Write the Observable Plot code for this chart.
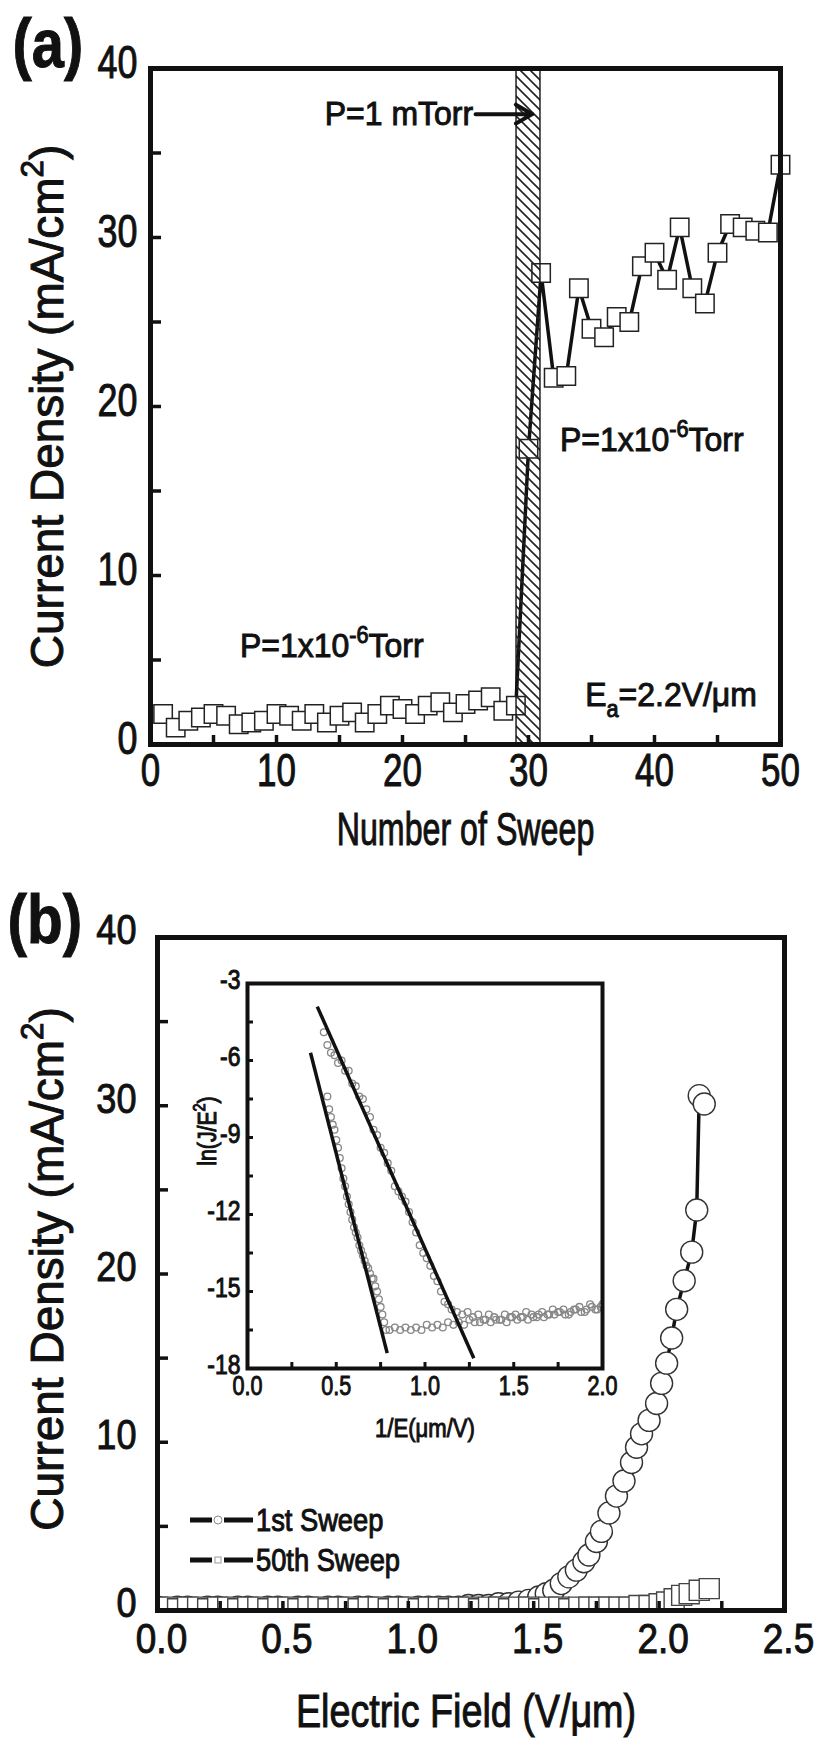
<!DOCTYPE html>
<html>
<head>
<meta charset="utf-8">
<script src="https://cdn.jsdelivr.net/npm/d3@7"></script>
<script src="https://cdn.jsdelivr.net/npm/@observablehq/plot@0.6"></script>
<style>
  html, body { margin: 0; padding: 0; background: #fff; }
  #fig { position: relative; width: 819px; height: 1744px; overflow: hidden; background: #fff; }
  #fig > svg, #fig > div { position: absolute; }
  #fig svg text { stroke: #111; stroke-width: 1px; }
</style>
</head>
<body>
<div id="fig"></div>
<script>
// ---------------- DATA ----------------
// Panel (a): current density vs sweep number
const sweepNumber = [1,2,3,4,5,6,7,8,9,10,11,12,13,14,15,16,17,18,19,20,21,22,23,24,25,26,27,28,29,30,31,32,33,34,35,36,37,38,39,40,41,42,43,44,45,46,47,48,49,50];
const sweepCurrent = [1.8,1.0,1.4,1.6,1.8,1.7,1.2,1.3,1.4,1.8,1.7,1.4,1.8,1.3,1.7,1.9,1.3,1.8,2.3,2.1,1.8,2.3,2.5,1.9,2.4,2.6,2.8,2.0,2.3,17.5,27.9,21.7,21.8,27.0,24.6,24.1,25.3,25.0,28.3,29.1,27.5,30.6,27.0,26.1,29.1,30.8,30.6,30.4,30.3,34.3];
const exposureBand = [{from: 29.05, to: 30.95}];
const xTicksA = [0, 10, 20, 30, 40, 50];
const yTicksA = [0, 10, 20, 30, 40];
const xMinorA = [5, 10, 15, 20, 25, 30, 35, 40, 45];
const yMinorA = [5, 10, 15, 20, 25, 30, 35];
const notesStartA = [
  {x: 7.1, y: 5.8, t: "P=1x10^{-6}Torr"},
  {x: 32.5, y: 18.0, t: "P=1x10^{-6}Torr"},
  {x: 34.5, y: 2.9, t: "E_{a}=2.2V/μm"}
];
const notesEndA = [{x: 25.6, y: 37.3, t: "P=1 mTorr"}];
const arrowA = [{x1: 25.8, x2: 30.3, y: 37.3}];

// Panel (b): J-E curves
const firstE = [0.00,0.04,0.08,0.12,0.16,0.20,0.24,0.28,0.32,0.36,0.40,0.44,0.48,0.52,0.56,0.60,0.64,0.68,0.72,0.76,0.80,0.84,0.88,0.92,0.96,1.00,1.04,1.08,1.12,1.16,1.20,1.24,1.28,1.32,1.36,1.40,1.44,1.48,1.52,1.55,1.58,1.61,1.64,1.67,1.70,1.72,1.75,1.77,1.80,1.83,1.86,1.89,1.91,1.93,1.96,1.99,2.01,2.03,2.05,2.07,2.10,2.13,2.15,2.16,2.18];
const firstJ = [0.2,0.1,0.2,0.2,0.1,0.2,0.2,0.1,0.2,0.2,0.1,0.2,0.2,0.1,0.2,0.2,0.1,0.2,0.2,0.1,0.2,0.2,0.1,0.2,0.2,0.1,0.2,0.2,0.2,0.2,0.2,0.3,0.3,0.3,0.4,0.4,0.5,0.6,0.8,1.0,1.2,1.6,2.0,2.4,2.9,3.3,4.1,4.7,5.8,6.8,7.7,8.8,9.7,10.5,11.3,12.3,13.5,14.7,16.2,17.9,19.6,21.3,23.8,30.6,30.1];
const lastE = [0.00,0.04,0.08,0.12,0.16,0.20,0.24,0.28,0.32,0.36,0.40,0.44,0.48,0.52,0.56,0.60,0.64,0.68,0.72,0.76,0.80,0.84,0.88,0.92,0.96,1.00,1.04,1.08,1.12,1.16,1.20,1.24,1.28,1.32,1.36,1.40,1.44,1.48,1.52,1.56,1.60,1.64,1.68,1.72,1.76,1.80,1.84,1.88,1.92,1.96,2.00,2.03,2.06,2.09,2.12,2.16,2.20];
const lastJ = [0.2,0.2,0.1,0.2,0.2,0.1,0.2,0.2,0.1,0.2,0.2,0.1,0.2,0.2,0.1,0.2,0.2,0.1,0.2,0.2,0.1,0.2,0.2,0.1,0.2,0.2,0.1,0.2,0.2,0.1,0.2,0.2,0.1,0.2,0.2,0.1,0.2,0.2,0.1,0.2,0.2,0.1,0.2,0.2,0.2,0.2,0.2,0.2,0.3,0.3,0.4,0.5,0.7,0.9,1.0,1.2,1.3];
const xTicksB = [0, 0.5, 1, 1.5, 2, 2.5];
const yTicksB = [0, 10, 20, 30, 40];
const xMinorB = [0.25, 0.5, 0.75, 1, 1.25, 1.5, 1.75, 2, 2.25];
const yMinorB = [5, 10, 15, 20, 25, 30, 35];
const legendItems = [{label: "1st Sweep", symbol: "circle"}, {label: "50th Sweep", symbol: "square"}];

// Inset: F-N plot
const fnAInvE = [0.45,0.46,0.47,0.48,0.49,0.50,0.51,0.52,0.53,0.54,0.55,0.56,0.57,0.58,0.59,0.60,0.61,0.62,0.63,0.64,0.65,0.66,0.67,0.68,0.69,0.70,0.71,0.72,0.73,0.74,0.75,0.76,0.77,0.78,0.80,0.83,0.86,0.89,0.92,0.95,0.98,1.01,1.04,1.07,1.10,1.13,1.16,1.19,1.22,1.25,1.28,1.31,1.34,1.37,1.40,1.43,1.46,1.49,1.52,1.55,1.58,1.61,1.64,1.67,1.70,1.73,1.76,1.79,1.82,1.85,1.88,1.91,1.94,1.97,2.00];
const fnALn = [-7.4,-7.9,-8.2,-8.5,-8.7,-9.1,-9.4,-9.8,-10.2,-10.6,-10.9,-11.3,-11.6,-11.9,-12.2,-12.5,-12.7,-12.9,-13.2,-13.4,-13.6,-13.8,-14.0,-14.1,-14.3,-14.5,-14.5,-14.8,-15.0,-15.3,-15.6,-15.9,-16.2,-16.5,-16.5,-16.4,-16.5,-16.4,-16.5,-16.4,-16.5,-16.3,-16.4,-16.3,-16.4,-16.2,-16.3,-16.2,-16.3,-16.1,-16.2,-16.2,-16.1,-16.2,-16.1,-16.1,-16.2,-16.0,-16.1,-16.0,-16.1,-16.0,-15.9,-16.0,-15.9,-15.9,-15.8,-15.9,-15.8,-15.7,-15.8,-15.7,-15.6,-15.7,-15.5];
const fnBInvE = [0.43,0.45,0.47,0.49,0.51,0.53,0.55,0.57,0.59,0.61,0.63,0.65,0.67,0.69,0.71,0.73,0.75,0.77,0.79,0.81,0.83,0.85,0.87,0.89,0.91,0.93,0.95,0.97,0.99,1.01,1.03,1.05,1.07,1.09,1.11,1.13,1.15,1.18,1.21,1.24,1.27,1.30,1.33,1.36,1.39,1.42,1.45,1.48,1.51,1.54,1.57,1.60,1.63,1.66,1.69,1.72,1.75,1.78,1.81,1.84,1.87,1.90,1.93,1.96,1.99];
const fnBLn = [-4.9,-5.4,-5.7,-5.8,-6.1,-6.0,-6.4,-6.4,-6.9,-7.0,-7.4,-7.5,-7.9,-8.2,-8.7,-8.9,-9.4,-9.6,-10.0,-10.3,-10.9,-11.1,-11.3,-11.5,-11.9,-12.3,-12.7,-13.2,-13.5,-13.7,-14.0,-14.4,-14.6,-15.0,-15.4,-15.5,-15.7,-15.8,-15.9,-15.8,-16.0,-15.9,-16.1,-15.9,-16.0,-16.1,-15.9,-16.0,-15.9,-16.0,-15.8,-15.9,-16.0,-15.8,-15.9,-15.7,-15.8,-15.7,-15.9,-15.7,-15.6,-15.8,-15.5,-15.7,-15.6];
const fnFits = [
  {x1: 0.355, y1: -5.7, x2: 0.787, y2: -17.4},
  {x1: 0.393, y1: -3.9, x2: 1.275, y2: -17.6}
];
const xTicksI = [0, 0.5, 1, 1.5, 2];
const yTicksI = [-3, -6, -9, -12, -15, -18];
const xMinorI = [0.25, 0.5, 0.75, 1, 1.25, 1.5, 1.75];
const yMinorI = [-4.5, -6, -7.5, -9, -10.5, -12, -13.5, -15, -16.5];

// ---------------- BUILD ----------------
const NS = "http://www.w3.org/2000/svg";
const FONT = "'Liberation Sans', Arial, Helvetica, sans-serif";
const INK = "#111";
const fig = document.getElementById("fig");

const rowsA = sweepNumber.map((n, i) => ({n, j: sweepCurrent[i]}));
const rowsFirst = firstE.map((e, i) => ({e, j: firstJ[i]}));
const rowsLast = lastE.map((e, i) => ({e, j: lastJ[i]}));
const rowsFnA = fnAInvE.map((x, i) => ({x, y: fnALn[i]}));
const rowsFnB = fnBInvE.map((x, i) => ({x, y: fnBLn[i]}));
const id = d => d;

function richText(svg) {
  svg.querySelectorAll("text").forEach(t => {
    const s = t.textContent;
    if (!/[\^_]\{/.test(s)) return;
    const F = parseFloat(getComputedStyle(t).fontSize) || 16;
    while (t.firstChild) t.removeChild(t.firstChild);
    const re = /([\^_])\{([^}]*)\}|([^\^_]+)/g;
    let m, off = 0;
    while ((m = re.exec(s))) {
      const ts = document.createElementNS(NS, "tspan");
      if (m[3] !== undefined) {
        ts.textContent = m[3];
        if (off) ts.setAttribute("dy", (-off).toFixed(2));
        off = 0;
      } else {
        const d = m[1] === "^" ? -0.42 * F : 0.3 * F;
        ts.textContent = m[2];
        ts.setAttribute("font-size", (0.68 * F).toFixed(2));
        ts.setAttribute("dy", (d - off).toFixed(2));
        off = d;
      }
      t.appendChild(ts);
    }
  });
}
function squeeze(t, k) {
  const tr = t.getAttribute("transform");
  if (tr) t.setAttribute("transform", tr + ` scale(${k},1)`);
}
function condense(svg, tickRules, textRules) {
  svg.querySelectorAll("g[aria-label]").forEach(g => {
    const k = tickRules[g.getAttribute("aria-label")];
    if (k) g.querySelectorAll("text").forEach(t => squeeze(t, k));
  });
  svg.querySelectorAll("text").forEach(t => {
    const k = textRules[t.textContent];
    if (k) squeeze(t, k);
  });
}
function place(svg, left, top) {
  svg.style.left = left + "px";
  svg.style.top = top + "px";
  fig.appendChild(svg);
}

// ----- Panel (a) -----
const innerWA = 630, innerHA = 676;
const plotA = Plot.plot({
  width: 819, height: 880,
  marginLeft: 150, marginRight: 39, marginTop: 68, marginBottom: 136,
  style: {fontFamily: FONT, color: INK, background: "transparent", overflow: "visible"},
  x: {domain: [0, 50], label: null},
  y: {domain: [0, 40], label: null},
  marks: [
    Plot.line(rowsA, {x: "n", y: "j", stroke: INK, strokeWidth: 3.5}),
    Plot.dot(rowsA, {x: "n", y: "j", symbol: "square", r: 10.4, fill: "white", stroke: "#222", strokeWidth: 1.5}),
    Plot.rect(exposureBand, {x1: "from", x2: "to", fill: "url(#hatchA)", stroke: INK, strokeWidth: 1.4}),
    Plot.tickX(xMinorA, {x: id, insetTop: innerHA - 9, stroke: INK, strokeWidth: 3.5}),
    Plot.tickY(yMinorA, {y: id, insetRight: innerWA - 11, stroke: INK, strokeWidth: 3.5}),
    Plot.axisX({ticks: xTicksA, tickSize: 0, tickPadding: 9, fontSize: 46, tickFormat: d => String(d), label: null}),
    Plot.axisY({ticks: yTicksA, tickSize: 0, tickPadding: 13, dy: -5, fontSize: 46, tickFormat: d => String(d), label: null}),
    Plot.frame({stroke: INK, strokeWidth: 5}),
    Plot.arrow(arrowA, {x1: "x1", y1: "y", x2: "x2", y2: "y", stroke: INK, strokeWidth: 4, headLength: 12}),
    Plot.text(notesEndA, {x: "x", y: "y", text: "t", textAnchor: "end", fontSize: 34, fill: INK}),
    Plot.text(notesStartA, {x: "x", y: "y", text: "t", textAnchor: "start", fontSize: 34, fill: INK}),
    Plot.text(["Current Density (mA/cm^{2})"], {text: id, frameAnchor: "left", textAnchor: "middle", lineAnchor: "middle", rotate: -90, dx: -102.5, fontSize: 46, fill: INK}),
    Plot.text(["Number of Sweep"], {text: id, frameAnchor: "bottom", textAnchor: "middle", lineAnchor: "middle", dy: 86, fontSize: 46, fill: INK}),
    Plot.text(["(a)"], {text: id, frameAnchor: "top-left", textAnchor: "start", lineAnchor: "middle", dx: -138, dy: -23, fontSize: 68, fontWeight: "bold", fill: INK})
  ]
});
const defsA = document.createElementNS(NS, "defs");
defsA.innerHTML = `<pattern id="hatchA" patternUnits="userSpaceOnUse" width="10" height="10"><path d="M0,0 L10,10 M-1,9 L1,11 M9,-1 L11,1" stroke="#222" stroke-width="1.6"/></pattern>`;
plotA.insertBefore(defsA, plotA.firstChild);
place(plotA, 0, 0);
condense(plotA,
  {"x-axis tick label": 0.76, "y-axis tick label": 0.78},
  {"Number of Sweep": 0.7, "(a)": 0.85, "P=1 mTorr": 0.94, "P=1x10^{-6}Torr": 0.94, "E_{a}=2.2V/μm": 0.94});
richText(plotA);

// ----- Panel (b) -----
const innerWB = 627, innerHB = 673;
const plotB = Plot.plot({
  width: 819, height: 864,
  marginLeft: 157, marginRight: 35, marginTop: 57, marginBottom: 134,
  style: {fontFamily: FONT, color: INK, background: "transparent", overflow: "visible"},
  x: {domain: [0, 2.5], label: null},
  y: {domain: [0, 40], label: null},
  marks: [
    Plot.line(rowsFirst, {x: "e", y: "j", stroke: INK, strokeWidth: 3.5, clip: true}),
    Plot.dot(rowsFirst, {x: "e", y: "j", r: 11, fill: "white", stroke: "#333", strokeWidth: 1.4, clip: true}),
    Plot.line(rowsLast, {x: "e", y: "j", stroke: INK, strokeWidth: 3, clip: true}),
    Plot.dot(rowsLast, {x: "e", y: "j", symbol: "square", r: 11.3, fill: "white", stroke: "#444", strokeWidth: 1.4, clip: true}),
    Plot.tickX(xMinorB, {x: id, insetTop: innerHB - 9, stroke: INK, strokeWidth: 3.5}),
    Plot.tickY(yMinorB, {y: id, insetRight: innerWB - 11, stroke: INK, strokeWidth: 3.5}),
    Plot.axisX({ticks: xTicksB, tickSize: 0, tickPadding: 12, dx: 4, fontSize: 43, tickFormat: d => d.toFixed(1), label: null}),
    Plot.axisY({ticks: yTicksB, tickSize: 0, tickPadding: 21, dy: -7, fontSize: 43, tickFormat: d => String(d), label: null}),
    Plot.frame({stroke: INK, strokeWidth: 5}),
    Plot.text(["Current Density (mA/cm^{2})"], {text: id, frameAnchor: "left", textAnchor: "middle", lineAnchor: "middle", rotate: -90, dx: -109.5, dy: -5, fontSize: 46, fill: INK}),
    Plot.text(["Electric Field (V/μm)"], {text: id, frameAnchor: "bottom", textAnchor: "middle", lineAnchor: "middle", dx: -5, dy: 102, fontSize: 46, fill: INK}),
    Plot.text(["(b)"], {text: id, frameAnchor: "top-left", textAnchor: "start", lineAnchor: "middle", dx: -150, dy: -16, fontSize: 68, fontWeight: "bold", fill: INK})
  ]
});
place(plotB, 0, 880);
condense(plotB,
  {"x-axis tick label": 0.86, "y-axis tick label": 0.84},
  {"Electric Field (V/μm)": 0.82, "(b)": 0.86});
richText(plotB);

// ----- Inset -----
const innerWI = 355, innerHI = 385;
const plotI = Plot.plot({
  width: 480, height: 500,
  marginLeft: 97, marginRight: 28, marginTop: 33, marginBottom: 82,
  style: {fontFamily: FONT, color: INK, background: "transparent", overflow: "visible"},
  x: {domain: [0, 2], label: null},
  y: {domain: [-18, -3], label: null},
  marks: [
    Plot.dot(rowsFnA, {x: "x", y: "y", r: 3.4, stroke: "#888", strokeWidth: 1.3, clip: true}),
    Plot.dot(rowsFnB, {x: "x", y: "y", r: 3.4, stroke: "#888", strokeWidth: 1.3, clip: true}),
    Plot.link(fnFits, {x1: "x1", y1: "y1", x2: "x2", y2: "y2", stroke: INK, strokeWidth: 3.5}),
    Plot.tickX(xMinorI, {x: id, insetTop: innerHI - 6, stroke: INK, strokeWidth: 3}),
    Plot.tickY(yMinorI, {y: id, insetRight: innerWI - 6, stroke: INK, strokeWidth: 3}),
    Plot.axisX({ticks: xTicksI, tickSize: 0, tickPadding: 7, fontSize: 27, tickFormat: d => d.toFixed(1), label: null}),
    Plot.axisY({ticks: yTicksI, tickSize: 0, tickPadding: 7, dy: -3, fontSize: 27, tickFormat: d => String(d), label: null}),
    Plot.frame({stroke: INK, strokeWidth: 4}),
    Plot.text(["ln(J/E^{2})"], {text: id, frameAnchor: "left", textAnchor: "middle", lineAnchor: "middle", rotate: -90, dx: -40, dy: -45, fontSize: 25, fill: INK}),
    Plot.text(["1/E(μm/V)"], {text: id, frameAnchor: "bottom", textAnchor: "middle", lineAnchor: "middle", dy: 60, fontSize: 26, fill: INK})
  ]
});
place(plotI, 150, 950);
condense(plotI,
  {"x-axis tick label": 0.8, "y-axis tick label": 0.85},
  {"ln(J/E^{2})": 0.85, "1/E(μm/V)": 0.85});
richText(plotI);

// ----- Legend -----
const leg = document.createElementNS(NS, "svg");
leg.setAttribute("width", 320);
leg.setAttribute("height", 100);
leg.style.fontFamily = FONT;
legendItems.forEach((item, i) => {
  const cy = 30 + 40 * i;
  const g = document.createElementNS(NS, "g");
  g.setAttribute("transform", `translate(0,${cy})`);
  g.innerHTML =
    `<line x1="10" x2="32" y1="0" y2="0" stroke="${INK}" stroke-width="5"/>` +
    `<line x1="44" x2="73" y1="0" y2="0" stroke="${INK}" stroke-width="5"/>` +
    (item.symbol === "circle"
      ? `<circle cx="38" cy="0" r="4" fill="white" stroke="#888" stroke-width="1"/>`
      : `<rect x="35" y="-3" width="6" height="6" fill="white" stroke="#999" stroke-width="1"/>`) +
    `<text x="76" y="0" dy="0.35em" font-size="31" fill="${INK}" transform="translate(76,0) scale(0.88,1) translate(-76,0)">${item.label}</text>`;
  leg.appendChild(g);
});
place(leg, 180, 1490);
</script>
</body>
</html>
